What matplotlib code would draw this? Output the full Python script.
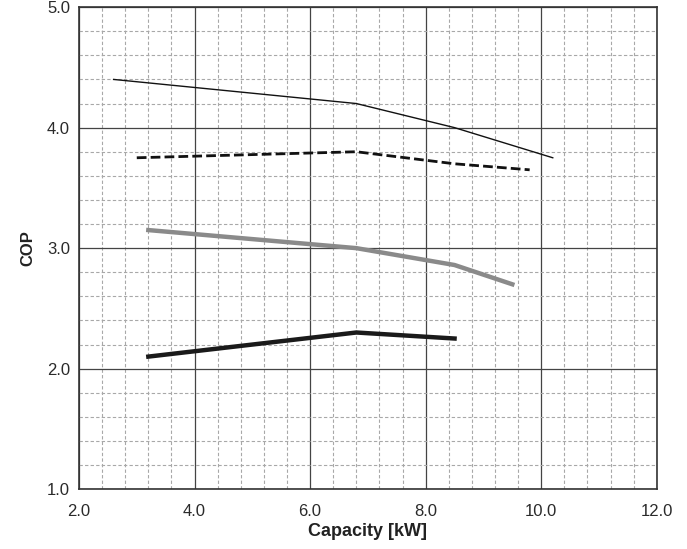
import matplotlib
matplotlib.use('Agg')
import matplotlib.pyplot as plt
import numpy as np

plt.rcParams['font.family'] = ['Liberation Sans', 'DejaVu Sans']

# curves (capacity kW, COP)
thin_x = [2.6, 6.8, 8.5, 10.2]
thin_y = [4.40, 4.20, 4.00, 3.75]
dash_x = [3.0, 6.8, 8.5, 9.8]
dash_y = [3.75, 3.80, 3.70, 3.65]
gray_x = [3.2, 6.8, 8.5, 9.5]
gray_y = [3.15, 3.00, 2.86, 2.70]
thick_x = [3.2, 6.8, 8.5]
thick_y = [2.10, 2.30, 2.25]

xticks = [2.0, 4.0, 6.0, 8.0, 10.0, 12.0]
yticks = [1.0, 2.0, 3.0, 4.0, 5.0]

fig = plt.figure(figsize=(6.87, 5.49), dpi=100)
ax = fig.add_axes([0.115, 0.109, 0.841, 0.878])

ax.set_xlim(2, 12)
ax.set_ylim(1, 5)
ax.set_xticks(xticks)
ax.set_yticks(yticks)
ax.set_xticklabels(['%.1f' % v for v in xticks])
ax.set_yticklabels(['%.1f' % v for v in yticks])
ax.set_xticks(np.arange(2, 12.01, 0.4), minor=True)
ax.set_yticks(np.arange(1, 5.01, 0.2), minor=True)
ax.grid(which='minor', color='#a8a8a8', linestyle=(0, (3, 2)), linewidth=0.8)
ax.grid(which='major', color='#444444', linestyle='-', linewidth=0.9)
ax.set_axisbelow(True)
ax.tick_params(which='both', length=0, labelsize=12, colors='#2a2a2a')
ax.tick_params(axis='x', pad=10.5)
ax.tick_params(axis='y', pad=6.5)
for s in ax.spines.values():
    s.set_color('#333333')
    s.set_linewidth(1.2)

ax.plot(thin_x, thin_y, color='#111111', linewidth=1.0)
ax.plot(dash_x, dash_y, color='#111111', linewidth=2.0, linestyle=(0, (3.5, 1.5)))
ax.plot(gray_x, gray_y, color='#8a8a8a', linewidth=3.2)
ax.plot(thick_x, thick_y, color='#1a1a1a', linewidth=3.2)

ax.set_xlabel('Capacity [kW]', fontsize=13, fontweight='bold', labelpad=3, color='#222222')
ax.set_ylabel('COP', fontsize=12, fontweight='bold', labelpad=8, color='#222222')

fig.savefig('out.png', dpi=100)
